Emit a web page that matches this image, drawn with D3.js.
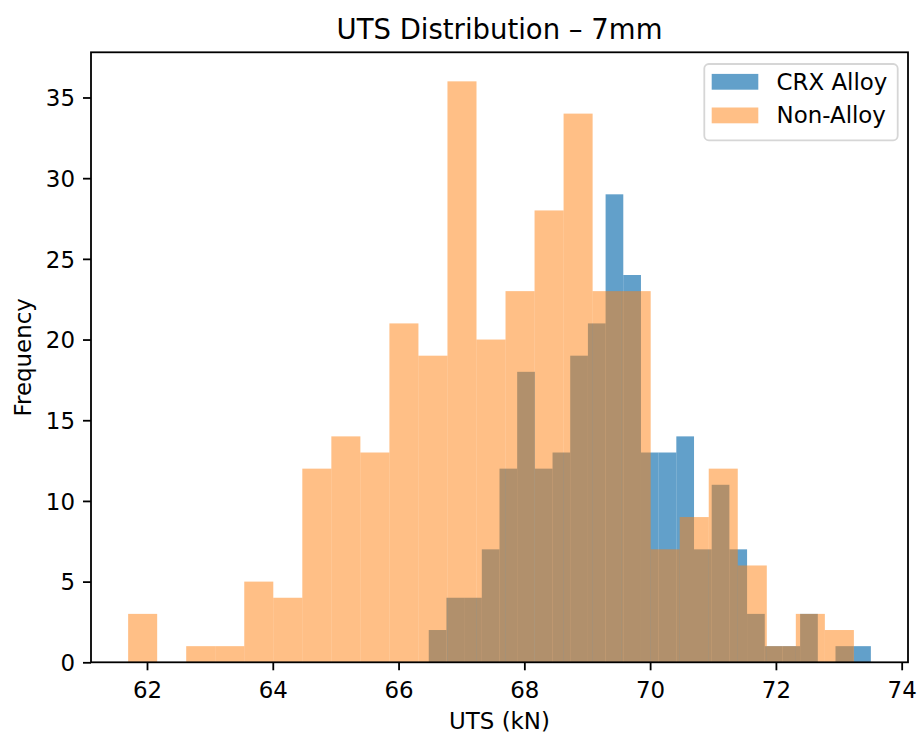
<!DOCTYPE html>
<html>
<head>
<meta charset="utf-8">
<title>UTS Distribution – 7mm</title>
<script src="https://cdn.jsdelivr.net/npm/d3@7"></script>
<style>
    body { margin: 0; background: #fff; }
    svg { display: block; }
    text { font-family: "DejaVu Sans", sans-serif; fill: #000; }
</style>
</head>
<body>
<script>
// histogram counts (25 equal bins per series)
var crxCounts = [2, 4, 4, 7, 12, 18, 12, 13, 19, 21, 29, 24, 13, 13, 14, 7, 11, 7, 3, 1, 1, 3, 0, 1, 1];
var crxRange = [66.48, 73.51];
var nonAlloyCounts = [3, 0, 1, 1, 5, 4, 12, 14, 13, 21, 19, 36, 20, 23, 28, 34, 23, 23, 7, 9, 12, 6, 1, 3, 2];
var nonAlloyRange = [61.70, 73.24];

var seriesNames = ["CRX Alloy", "Non-Alloy"];
var xTicks = [62, 64, 66, 68, 70, 72, 74];
var yTicks = [0, 5, 10, 15, 20, 25, 30, 35];

function init(w, h) {
    var left = 91, right = 908, top = 52.3, bottom = 662.3;
    var fontSize = 22.9;

    var svg = d3.select("body").append("svg")
        .attr("width", w)
        .attr("height", h);

    // turn counts + range into bins with edges
    function toBins(counts, range) {
        var step = (range[1] - range[0]) / counts.length;
        return counts.map(function(c, i) {
            return { x0: range[0] + i * step, x1: range[0] + (i + 1) * step, n: c };
        });
    }
    var crxBins = toBins(crxCounts, crxRange);
    var nonBins = toBins(nonAlloyCounts, nonAlloyRange);

    // matplotlib style 5% margins on x, ymax * 1.05
    var lo = d3.min([crxRange[0], nonAlloyRange[0]]);
    var hi = d3.max([crxRange[1], nonAlloyRange[1]]);
    var pad = (hi - lo) * 0.05;
    var x = d3.scaleLinear().domain([lo - pad, hi + pad]).range([left, right]);
    var yMax = d3.max(crxCounts.concat(nonAlloyCounts)) * 1.05;
    var y = d3.scaleLinear().domain([0, yMax]).range([bottom, top]);

    var series = [
        { name: seriesNames[0], bins: crxBins, color: "#1f77b4", alpha: 0.7 },
        { name: seriesNames[1], bins: nonBins, color: "#ff7f0e", alpha: 0.5 }
    ];

    // bars
    series.forEach(function(s) {
        svg.append("g")
            .selectAll("rect")
            .data(s.bins.filter(function(d) { return d.n > 0; }))
            .enter()
            .append("rect")
            .attr("x", function(d) { return x(d.x0); })
            .attr("width", function(d) { return x(d.x1) - x(d.x0); })
            .attr("y", function(d) { return y(d.n); })
            .attr("height", function(d) { return y(0) - y(d.n); })
            .style("fill", s.color)
            .style("fill-opacity", s.alpha);
    });

    // axes
    var xAxis = svg.append("g")
        .attr("transform", "translate(0," + bottom + ")")
        .call(d3.axisBottom(x).tickValues(xTicks).tickSize(8).tickPadding(11));
    var yAxis = svg.append("g")
        .attr("transform", "translate(" + left + ",0)")
        .call(d3.axisLeft(y).tickValues(yTicks).tickSize(8).tickPadding(8));

    [xAxis, yAxis].forEach(function(a) {
        a.select(".domain").remove();
        a.selectAll(".tick line").style("stroke", "#000").style("stroke-width", 1.8);
        a.selectAll(".tick text")
            .style("font-size", fontSize + "px")
            .style("font-family", "DejaVu Sans")
            .style("fill", "#000");
    });
    yAxis.selectAll(".tick text").attr("dy", "0.36em");

    // spines
    svg.append("rect")
        .attr("x", left)
        .attr("y", top)
        .attr("width", right - left)
        .attr("height", bottom - top)
        .style("fill", "none")
        .style("stroke", "#000")
        .style("stroke-width", 1.8);

    // title and axis labels
    svg.append("text")
        .text(document.title)
        .attr("x", (left + right) / 2)
        .attr("y", 38.5)
        .attr("text-anchor", "middle")
        .style("font-size", "27.5px");

    svg.append("text")
        .text("UTS (kN)")
        .attr("x", (left + right) / 2)
        .attr("y", 728.5)
        .attr("text-anchor", "middle")
        .style("font-size", fontSize + "px");

    svg.append("text")
        .text("Frequency")
        .attr("transform", "translate(31," + ((top + bottom) / 2) + ") rotate(-90)")
        .attr("text-anchor", "middle")
        .style("font-size", fontSize + "px");

    // legend
    var legend = svg.append("g");
    legend.append("rect")
        .attr("x", 704.3)
        .attr("y", 64)
        .attr("width", 193.4)
        .attr("height", 76.3)
        .attr("rx", 4.5)
        .style("fill", "#fff")
        .style("fill-opacity", 0.8)
        .style("stroke", "#d6d6d6")
        .style("stroke-width", 1.8);

    var items = legend.selectAll("g.item")
        .data(series)
        .enter()
        .append("g")
        .attr("class", "item")
        .attr("transform", function(d, i) { return "translate(0," + (i * 33.6) + ")"; });

    items.append("rect")
        .attr("x", 711.7)
        .attr("y", 73.9)
        .attr("width", 46.6)
        .attr("height", 15.8)
        .style("fill", function(d) { return d.color; })
        .style("fill-opacity", function(d) { return d.alpha; });

    items.append("text")
        .text(function(d) { return d.name; })
        .attr("x", 776.6)
        .attr("y", 89.8)
        .style("font-size", fontSize + "px");
}

init(917, 739);
</script>
</body>
</html>
